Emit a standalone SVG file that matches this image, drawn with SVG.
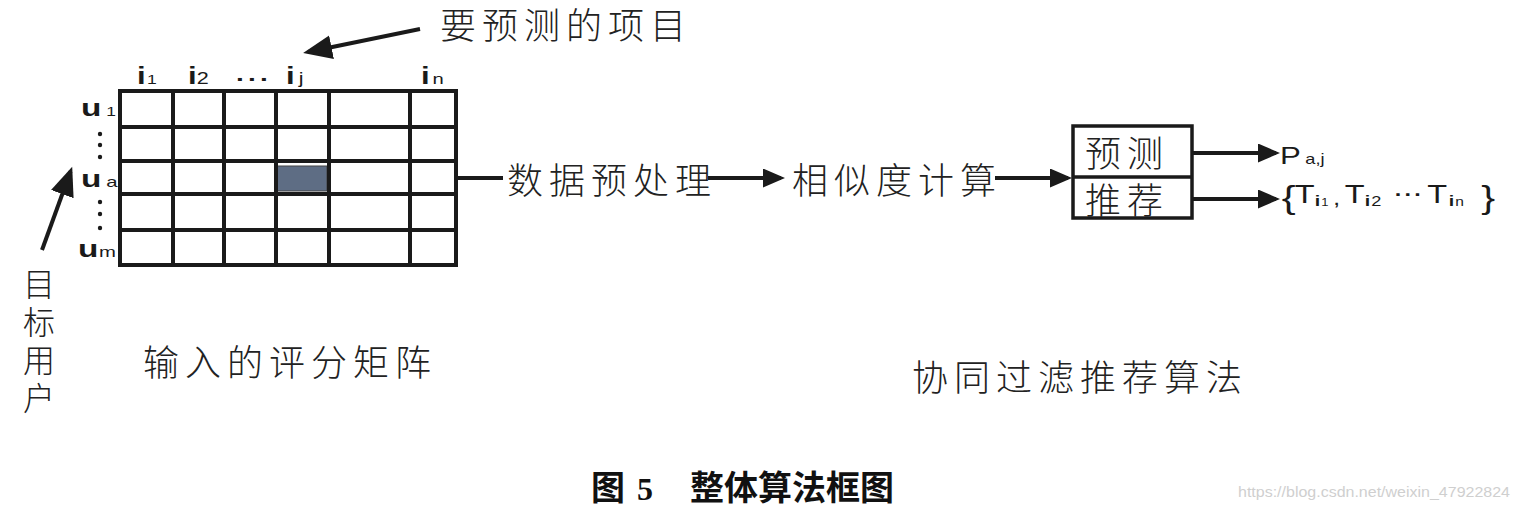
<svg xmlns="http://www.w3.org/2000/svg" width="1519" height="510" viewBox="0 0 1519 510">
<style>
.cn{font-family:"Noto Sans CJK SC","Noto Sans",sans-serif;font-size:36px;fill:#222;letter-spacing:6px;font-weight:300}
.cnv{font-family:"Noto Sans CJK SC","Noto Sans",sans-serif;font-size:32px;fill:#222;font-weight:300;writing-mode:vertical-rl;letter-spacing:6px}
.lat{font-family:"Liberation Sans",Arial,sans-serif;fill:#1a1a1a}
.grid{fill:none;stroke:#1a1a1a;stroke-width:4}
.conn{fill:none;stroke:#1a1a1a;stroke-width:4}
.cap{font-family:"Noto Sans CJK SC",sans-serif;font-size:34px;font-weight:bold;fill:#111}
</style>
<defs>
<marker id="ah" markerUnits="userSpaceOnUse" markerWidth="23" markerHeight="20" refX="18" refY="9.5" orient="auto"><path d="M0,0 L22,9.5 L0,19 z" fill="#1a1a1a"/></marker>
<marker id="ahBig" markerUnits="userSpaceOnUse" markerWidth="30" markerHeight="26" refX="24" refY="12" orient="auto"><path d="M0,0 L29,12 L0,24 z" fill="#1a1a1a"/></marker>
</defs>
<rect width="1519" height="510" fill="#fff"/>

<g id="matrix">
<rect x="277" y="166" width="50" height="25" fill="#5e6d84" stroke="#444" stroke-width="1"/>
<rect class="grid" x="120" y="91" width="336" height="174"/>
<path class="grid" d="M173,91V265M224,91V265M276,91V265M329,91V265M410,91V265M120,127H456M120,161H456M120,194H456M120,230H456"/>
<text class="lat" transform="translate(137,84) scale(1.35,1)" font-size="23" font-weight="bold">i<tspan x="7.5" font-size="13" font-weight="normal">1</tspan></text>
<text class="lat" transform="translate(188,84) scale(1.35,1)" font-size="23" font-weight="bold">i<tspan x="6.5" font-size="16" font-weight="normal">2</tspan></text>
<text class="lat" transform="translate(236,81) scale(1.4,1)" font-size="20" font-weight="bold" letter-spacing="3">...</text>
<text class="lat" transform="translate(286,84) scale(1.35,1)" font-size="23" font-weight="bold">i<tspan x="9.5" font-size="16" font-weight="normal">j</tspan></text>
<text class="lat" transform="translate(421,84) scale(1.35,1)" font-size="23" font-weight="bold">i<tspan x="8.5" font-size="15" font-weight="normal">n</tspan></text>
<text class="lat" transform="translate(81,116) scale(1.45,1)" font-size="23" font-weight="bold">u<tspan x="17.5" font-size="12" font-weight="normal">1</tspan></text>
<text class="lat" transform="translate(81,187) scale(1.45,1)" font-size="23" font-weight="bold">u<tspan x="17.5" font-size="14" font-weight="normal">a</tspan></text>
<text class="lat" transform="translate(78,257) scale(1.45,1)" font-size="23" font-weight="bold">u<tspan x="14.5" font-size="14" font-weight="normal">m</tspan></text>
<g fill="#1a1a1a">
<circle cx="100" cy="134" r="2.2"/><circle cx="100" cy="145" r="2.2"/><circle cx="100" cy="157" r="2.2"/>
<circle cx="100" cy="202" r="2.2"/><circle cx="100" cy="214" r="2.2"/><circle cx="100" cy="228" r="2.2"/>
</g>
</g>

<g id="label-item"><text class="cn" x="440" y="39">要预测的项目</text></g>
<g id="label-user"><text class="cnv" x="39" y="268">目标用户</text></g>
<g id="label-matrix"><text class="cn" x="143" y="376">输入的评分矩阵</text></g>
<g id="preprocess"><text class="cn" x="507" y="194">数据预处理</text></g>
<g id="similarity"><text class="cn" x="792" y="194">相似度计算</text></g>
<g id="cf-box">
<rect x="1073" y="126" width="119" height="92" fill="#fff" stroke="#1a1a1a" stroke-width="3.5"/>
<line x1="1073" y1="177" x2="1192" y2="177" stroke="#1a1a1a" stroke-width="3.5"/>
<text class="cn" x="1085" y="167">预测</text>
<text class="cn" x="1085" y="214">推荐</text>
</g>
<g id="label-cf"><text class="cn" x="912" y="391">协同过滤推荐算法</text></g>
<g id="out-predict"><text class="lat" transform="translate(1280,164) scale(1.3,1)" font-size="24">P<tspan x="19.5" font-size="14">a,j</tspan></text></g>
<g id="out-recommend"><text class="lat" transform="translate(1281,0) scale(1.3,1)" font-size="25"><tspan x="0.5" y="208" font-size="32">{</tspan><tspan x="10.5" y="203">T</tspan><tspan x="26" y="206" font-size="15" font-weight="bold">i</tspan><tspan x="31" y="206" font-size="10">1</tspan><tspan x="40" y="205" font-size="20">,</tspan><tspan x="49" y="203">T</tspan><tspan x="64.5" y="206" font-size="15" font-weight="bold">i</tspan><tspan x="69.5" y="206" font-size="14">2</tspan><tspan x="87.5" y="196" font-size="18" font-weight="bold" letter-spacing="2.5">...</tspan><tspan x="112.5" y="203">T</tspan><tspan x="129" y="206" font-size="15" font-weight="bold">i</tspan><tspan x="134" y="206" font-size="12">n</tspan><tspan x="154" y="208" font-size="32">}</tspan></text></g>

<g id="connectors">
<line class="conn" x1="420" y1="29" x2="308" y2="52" marker-end="url(#ahBig)"/>
<line class="conn" x1="42" y1="250" x2="70.5" y2="171.5" marker-end="url(#ahBig)"/>
<line class="conn" x1="456" y1="178" x2="503" y2="178"/>
<line class="conn" x1="708" y1="178" x2="781" y2="178" marker-end="url(#ah)"/>
<line class="conn" x1="995" y1="178" x2="1068" y2="178" marker-end="url(#ah)"/>
<line class="conn" x1="1192" y1="153" x2="1276" y2="153" marker-end="url(#ah)"/>
<line class="conn" x1="1192" y1="199" x2="1276" y2="199" marker-end="url(#ah)"/>
</g>

<g id="caption">
<text class="cap" x="591" y="500">图</text>
<text x="637" y="500" font-family="Liberation Serif,serif" font-size="32" font-weight="bold" fill="#111">5</text>
<text class="cap" x="690" y="500">整体算法框图</text>
</g>
<text x="1238" y="497" font-family="Liberation Sans,Arial,sans-serif" font-size="15" fill="#cfcfcf" textLength="272" lengthAdjust="spacingAndGlyphs">https://blog.csdn.net/weixin_47922824</text>
</svg>
